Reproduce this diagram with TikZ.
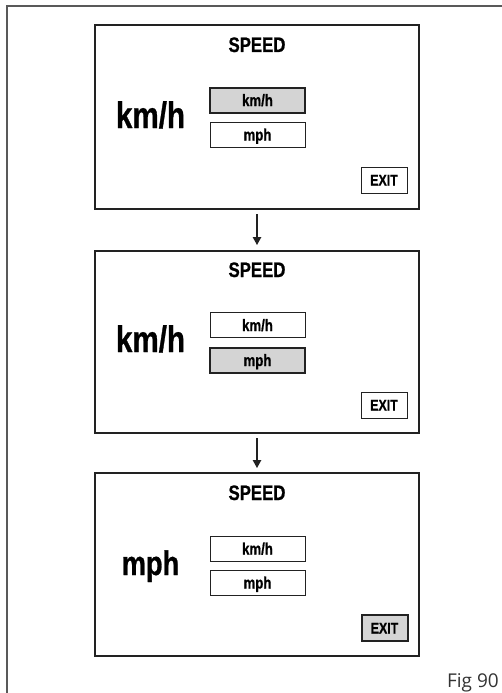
\documentclass[tikz,border=0pt]{standalone}
\usepackage{fontspec}
\usetikzlibrary{arrows.meta}
\newfontfamily\condfont[FakeStretch=0.8,FakeBold=0.8]{Liberation Sans Bold}
\newfontfamily\figfont{Open Sans}
\definecolor{selgray}{HTML}{D4D4D4}
\definecolor{linegray}{HTML}{222222}
\begin{document}
\begin{tikzpicture}[x=1pt,y=-1pt,
  screen/.style={draw=linegray,line width=2pt,minimum width=324pt,inner sep=0pt},
  btn/.style={draw=linegray,line width=0.9pt,minimum width=95pt,minimum height=25pt,inner sep=0pt,
    font=\condfont\fontsize{16.5}{16.5}\selectfont,text height=12pt,text depth=0pt},
  selbtn/.style={btn,fill=selgray,line width=2pt},
  exitbtn/.style={draw=linegray,line width=0.9pt,minimum width=46pt,minimum height=26pt,inner sep=0pt,
    font=\condfont\fontsize{15.5}{15.5}\selectfont,text height=11pt,text depth=0pt},
  selexit/.style={exitbtn,fill=selgray,line width=2pt},
  title/.style={font=\condfont\fontsize{21}{21}\selectfont,anchor=base,inner sep=0pt},
  big/.style={font=\condfont\fontsize{37}{37}\selectfont,anchor=base,inner sep=0pt},
  flow/.style={draw=linegray,line width=1.2pt,-{Triangle[length=8pt,width=8.5pt]}}
]
\useasboundingbox (0,0) rectangle (502,693);
% outer frame (top and left edges)
\draw[draw=black!65,line width=2pt] (7,693) -- (7,6) -- (502,6);

% screen 1
\node[screen,minimum height=184pt] (s1) at (257,117) {};
\node[title] (t1) at (257,52) {SPEED};
\node[big] (b1) at (150.5,128) {km/h};
\node[selbtn] (k1) at (257.5,100) {km/h};
\node[btn] (m1) at (257.5,134.5) {mph};
\node[exitbtn] (e1) at (384,180) {EXIT};

% screen 2
\node[screen,minimum height=182pt] (s2) at (257,342) {};
\node[title] (t2) at (257,277) {SPEED};
\node[big] (b2) at (150.5,352) {km/h};
\node[btn] (k2) at (257.5,325) {km/h};
\node[selbtn] (m2) at (257.5,360) {mph};
\node[exitbtn] (e2) at (384,405) {EXIT};

% screen 3
\node[screen,minimum height=183pt] (s3) at (257,564.5) {};
\node[title] (t3) at (257,500) {SPEED};
\node[big,font=\condfont\fontsize{34}{34}\selectfont] (b3) at (150.5,575) {mph};
\node[btn] (k3) at (257.5,548.5) {km/h};
\node[btn] (m3) at (257.5,582.5) {mph};
\node[selexit] (e3) at (384.5,628) {EXIT};

% arrows
\draw[flow] ([yshift=-4pt]s1.south) -- ([yshift=5pt]s2.north);
\draw[flow] ([yshift=-4pt]s2.south) -- ([yshift=4pt]s3.north);

\node[font=\figfont\fontsize{19}{19}\selectfont,anchor=base east,inner sep=0pt,text=black!80] (fig) at (499,687) {Fig 90};
\end{tikzpicture}
\end{document}
